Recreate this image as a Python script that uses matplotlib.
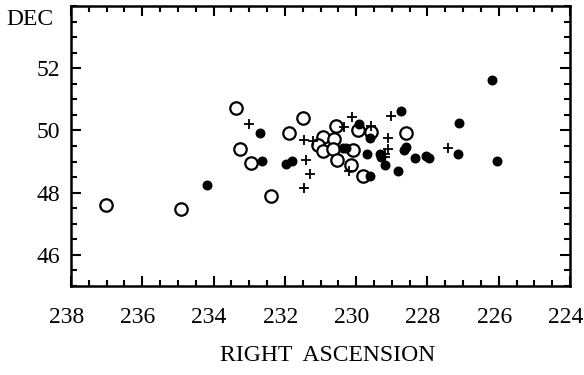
import matplotlib
matplotlib.use("Agg")
import matplotlib.pyplot as plt
from matplotlib.ticker import MultipleLocator
from matplotlib.transforms import ScaledTranslation

# filled circles
filled_ra = [234.19, 232.70, 232.63, 231.97, 231.79, 230.37, 230.28, 229.92, 229.62,
             229.71, 229.34, 229.29, 229.20, 228.83, 229.62, 228.75, 228.61, 228.65,
             228.35, 228.05, 227.97, 227.15, 227.11, 226.18, 226.05]
filled_dec = [48.26, 49.91, 49.01, 48.93, 49.01, 49.44, 49.44, 50.22, 49.76,
              49.25, 49.25, 49.14, 48.90, 48.70, 48.55, 50.62, 49.48, 49.38,
              49.12, 49.17, 49.12, 49.23, 50.24, 51.61, 49.01]

# open circles
open_ra = [237.01, 234.92, 232.40, 233.38, 233.25, 232.94, 231.88, 231.50, 230.94,
           230.61, 231.08, 230.94, 230.66, 230.56, 229.95, 229.59, 230.09, 230.53,
           230.14, 229.81, 228.60]
open_dec = [47.60, 47.46, 47.88, 50.72, 49.39, 48.95, 49.93, 50.41, 49.78,
            49.73, 49.52, 49.35, 49.41, 50.13, 50.00, 49.95, 49.38, 49.05,
            48.90, 48.52, 49.91]

# plus signs
plus_ra = [233.01, 231.46, 231.22, 231.41, 231.29, 231.46, 230.12, 230.33, 229.59,
           229.01, 229.10, 229.12, 229.18, 229.18, 230.19, 227.41]
plus_dec = [50.22, 49.68, 49.65, 49.05, 48.60, 48.15, 50.43, 50.11, 50.13,
            50.45, 49.76, 49.41, 49.14, 49.24, 48.71, 49.43]

plt.rcParams['font.family'] = ['Liberation Serif', 'DejaVu Serif']

fig = plt.figure(figsize=(5.84, 3.75), dpi=100)
ax = fig.add_axes([0.1216, 0.2373, 0.8545, 0.7467])

ax.scatter(open_ra, open_dec, s=80, facecolors='white', edgecolors='black',
           linewidths=1.6, zorder=3)
ax.scatter(filled_ra, filled_dec, s=38, color='black', zorder=4)
ax.scatter(plus_ra, plus_dec, s=55, marker='+', color='black', linewidths=1.3, zorder=5)

ax.set_xlim(238, 224)
ax.set_ylim(45, 54)
ax.xaxis.set_major_locator(MultipleLocator(2))
ax.xaxis.set_minor_locator(MultipleLocator(0.5))
ax.yaxis.set_major_locator(MultipleLocator(2))
ax.yaxis.set_minor_locator(MultipleLocator(0.5))
ax.set_yticks([46, 48, 50, 52])

ax.tick_params(which='both', direction='in', top=True, right=True, width=1.5,
               labelsize=17)
ax.tick_params(which='major', length=7)
ax.tick_params(which='minor', length=4)
ax.tick_params(axis='x', pad=15)
ax.tick_params(axis='y', pad=8)
for sp in ax.spines.values():
    sp.set_linewidth(1.8)

# labels in the reference sit slightly left of their ticks
shift = ScaledTranslation(-4.5 / 100, 0, fig.dpi_scale_trans)
for lab in ax.get_xticklabels():
    lab.set_transform(lab.get_transform() + shift)

fig.text(0.5616, 0.053, 'RIGHT  ASCENSION', fontsize=17, ha='center', va='center')
fig.text(0.092, 0.947, 'DEC', fontsize=17, ha='right', va='center')

fig.savefig('out.png', dpi=100)
